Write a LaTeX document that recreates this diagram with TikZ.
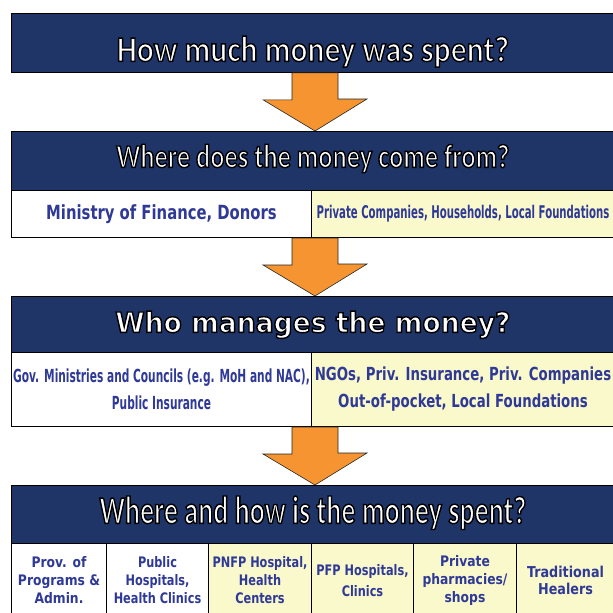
\documentclass[tikz,border=0pt]{standalone}
\usepackage{fontspec}
\setmainfont{DejaVu Sans}
\newfontfamily\headfontA[FakeStretch=0.88]{Carlito}
\newfontfamily\headfontB[FakeStretch=0.80]{Carlito}
\newfontfamily\headfontC[FakeStretch=0.95]{DejaVu Sans}
\newfontfamily\headfontD[FakeStretch=0.72]{Carlito}
\newfontfamily\cellfont[FakeStretch=0.85]{DejaVu Sans}
\newfontfamily\narrowfont[FakeStretch=0.78]{DejaVu Sans}
\newfontfamily\rowfontL[FakeStretch=0.59]{DejaVu Sans}
\newfontfamily\rowfontR[FakeStretch=0.74]{DejaVu Sans}
\newfontfamily\srcfontL[FakeStretch=0.76]{DejaVu Sans}
\newfontfamily\srcfontR[FakeStretch=0.58]{DejaVu Sans}
\usetikzlibrary{calc}
\definecolor{headblue}{RGB}{31,53,104}
\definecolor{cellblue}{RGB}{47,57,150}
\definecolor{cellyellow}{RGB}{250,249,204}
\definecolor{floworange}{RGB}{245,148,48}

% white letters with a black rim
\newcommand{\rimtext}[1]{%
  \special{pdf:literal direct 2 Tr 0 0 0 RG 1.4 w}#1\special{pdf:literal direct 0 Tr}}

% block arrow between two header rows
\newcommand{\flowarrow}[2]{%
  \draw[flow] ($(axis |- #1.south)+(-23,0)$) -- ++(0,-27) -- ++(-29,0)
    -- (axis |- #2.north) -- ++(52,32) -- ++(-29,0)
    -- ($(axis |- #1.south)+(23,0)$) -- cycle;}

\begin{document}
\begin{tikzpicture}[x=1pt,y=1pt]
  \tikzset{
    header/.style={draw=black, line width=0.8pt, fill=headblue, text=white,
      inner sep=0pt, minimum width=603pt, anchor=north west},
    cell/.style={draw=black, line width=1pt, fill=white, text=cellblue,
      inner sep=0pt, align=center, anchor=north west},
    paycell/.style={cell, fill=cellyellow},
    flow/.style={draw=black!85, line width=0.6pt, fill=floworange}
  }
  \useasboundingbox (0,0) rectangle (613,-613);
  \clip (0,0) rectangle (613,-613);
  \coordinate (axis) at (315,0);

  % question bars
  \node[header, text height=48pt, text depth=11pt] (howmuch) at (11,-13)
    {\headfontA\bfseries\fontsize{36}{40}\selectfont\rimtext{How much money was spent?}};
  \node[header, text height=36pt, text depth=23pt] (comefrom) at (11,-131)
    {\headfontB\bfseries\fontsize{33}{38}\selectfont\rimtext{Where does the money come from?}};
  \node[header, text height=36pt, text depth=20pt] (manages) at (11,-296)
    {\headfontC\bfseries\fontsize{28}{32}\selectfont\rimtext{Who manages the money?}};
  \node[header, text height=38pt, text depth=20pt] (spent) at (11,-485)
    {\headfontD\bfseries\fontsize{39}{44}\selectfont\rimtext{Where and how is the money spent?}};

  % sources
  \node[cell, minimum width=300pt, minimum height=47pt,
    font=\srcfontL\bfseries\fontsize{19.5}{22}\selectfont] (pubsrc) at (11,-190)
    {Ministry of Finance, Donors};
  \node[paycell, minimum width=303pt, minimum height=47pt,
    font=\srcfontR\bfseries\fontsize{17.5}{20}\selectfont] (privsrc) at (311,-190)
    {Private Companies, Households, Local Foundations};

  % managers
  \node[cell, minimum width=300pt, minimum height=74pt,
    font=\rowfontL\bfseries\fontsize{18}{27}\selectfont] (pubmgr) at (11,-352)
    {Gov. Ministries and Councils (e.g. MoH and NAC),\\Public Insurance};
  \node[paycell, minimum width=303pt, minimum height=74pt,
    font=\rowfontR\bfseries\fontsize{18}{27}\selectfont] (privmgr) at (311,-352)
    {NGOs, Priv. Insurance, Priv. Companies\\Out-of-pocket, Local Foundations};

  % providers
  \tikzset{prov/.style={minimum height=74pt,
    font=\cellfont\bfseries\fontsize{14.5}{18}\selectfont}}
  \node[cell, prov, minimum width=95pt] (admin) at (11,-543)
    {Prov. of\\Programs \&\\Admin.};
  \node[cell, prov, minimum width=102pt, font=\narrowfont\bfseries\fontsize{14.5}{18}\selectfont]
    (pubhosp) at (106,-543) {Public\\Hospitals,\\Health Clinics};
  \node[paycell, prov, minimum width=103pt, font=\narrowfont\bfseries\fontsize{14.5}{18}\selectfont]
    (pnfp) at (208,-543) {PNFP Hospital,\\Health\\Centers};
  \node[paycell, prov, minimum width=102pt, font=\narrowfont\bfseries\fontsize{14.5}{21}\selectfont]
    (pfp) at (311,-543) {PFP Hospitals,\\Clinics};
  \node[paycell, prov, minimum width=103pt] (pharma) at (413,-543)
    {Private\\pharmacies/\\shops};
  \node[paycell, prov, minimum width=98pt, font=\cellfont\bfseries\fontsize{15}{17}\selectfont]
    (healers) at (516,-543) {Traditional\\Healers};

  % arrows
  \flowarrow{howmuch}{comefrom}
  \flowarrow{pubsrc}{manages}
  \flowarrow{pubmgr}{spent}
\end{tikzpicture}
\end{document}
